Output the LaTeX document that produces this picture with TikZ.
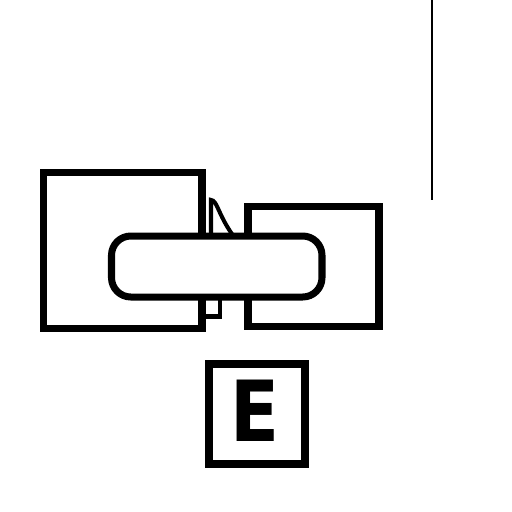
\documentclass[tikz,border=0pt]{standalone}
\usepackage{fontspec}
\newfontfamily\letterfont{DejaVu Sans}
\begin{document}
\begin{tikzpicture}[x=0.02cm,y=-0.02cm,
    box/.style={draw,line width=7pt*0.57},
    thin part/.style={draw,line width=2.3pt}]
    \useasboundingbox (0,0) rectangle (512,512);
    % line
    \draw [line width=1.7pt] (432,0) -- (432,200);
    % squares
    \draw [box] (43.5,172) rectangle (202,328);
    \draw [box] (248,206) rectangle (379,326);
    % small parts
    \draw [thin part] (211,234) -- (211,200) .. controls (217,200) and (218,214) .. (232,234);
    \draw [thin part] (202,316.5) -- (220,316.5) -- (220,297);
    % link
    \draw [box,fill=white,rounded corners=11pt] (111.5,236) rectangle (322,297);
    % letter
    \node (ebox) [draw,line width=4.5pt,minimum width=96.5*0.02cm,minimum height=100*0.02cm,inner sep=0pt] at (257,414) {};
    \node (eletter) [font=\letterfont\bfseries\fontsize{48}{48}\selectfont,xscale=0.85,inner sep=0pt] at (255,411) {E};
\end{tikzpicture}
\end{document}
